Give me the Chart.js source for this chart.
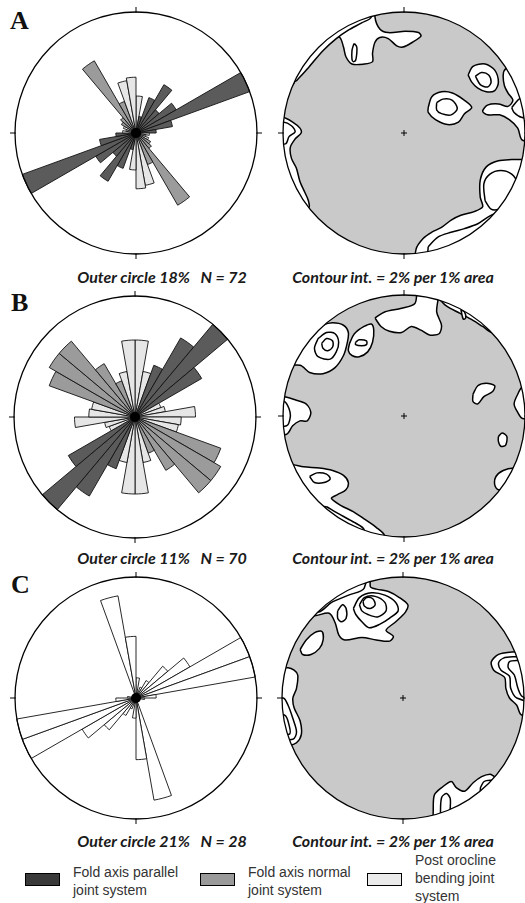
<!DOCTYPE html>
<html>
<head>
<meta charset="utf-8">
<script src="https://cdn.jsdelivr.net/npm/chart.js@4.4.0/dist/chart.umd.min.js"></script>
<style>
  body { margin: 0; width: 525px; height: 903px; overflow: hidden; background: #fff; position: relative; }
  canvas { position: absolute; }
  .panel { position: absolute; font-family: "Liberation Serif", serif; font-weight: bold; font-size: 26px; line-height: 26px; color: #111; }
  .cap { position: absolute; font-family: Lato, sans-serif; font-style: italic; font-weight: 700; font-size: 16px; line-height: 18px; white-space: pre; color: #1a1a1a; transform: translateX(-50%); }
  .key { position: absolute; width: 33px; height: 11px; border: 1px solid #000; }
  .keytext { position: absolute; font-family: "Liberation Sans", Arial, sans-serif; font-size: 14px; line-height: 18px; color: #333; }
</style>
</head>
<body>

<div class="panel" style="left:10px; top:8px;">A</div>
<div class="panel" style="left:11px; top:290px;">B</div>
<div class="panel" style="left:11px; top:572px;">C</div>

<canvas id="roseA" width="254" height="254" style="left:9px; top:6px;"></canvas>
<canvas id="netA" width="254" height="254" style="left:277px; top:6px;"></canvas>
<canvas id="roseB" width="254" height="254" style="left:8px; top:290px;"></canvas>
<canvas id="netB" width="254" height="254" style="left:277px; top:289px;"></canvas>
<canvas id="roseC" width="254" height="254" style="left:9px; top:571px;"></canvas>
<canvas id="netC" width="254" height="254" style="left:276px; top:571px;"></canvas>

<div class="cap" id="capA" style="left:162px; top:268px;"></div>
<div class="cap" id="capNetA" style="left:393px; top:268px;"></div>
<div class="cap" id="capB" style="left:162px; top:549px;"></div>
<div class="cap" id="capNetB" style="left:393px; top:549px;"></div>
<div class="cap" id="capC" style="left:162px; top:832px;"></div>
<div class="cap" id="capNetC" style="left:393px; top:832px;"></div>

<div class="key" style="left:25px; top:873px; background:#3a3a3a;"></div>
<div class="keytext" style="left:73px; top:863px;">Fold axis parallel<br>joint system</div>
<div class="key" style="left:200px; top:873px; background:#9a9a9a;"></div>
<div class="keytext" style="left:248px; top:863px;">Fold axis normal<br>joint system</div>
<div class="key" style="left:367px; top:873px; background:#ebebeb;"></div>
<div class="keytext" style="left:415px; top:851px;">Post orocline<br>bending joint<br>system</div>

<script>
// ---- rose diagrams: % of joints per 10° strike bin, 0-10° ... 170-180°
// (bidirectional, so each bin is also plotted at the opposite azimuth)
const roseA_values = [5.5, 2.5, 5.6, 8.3, 4.5, 6.9, 18, 5.5, 3, 2, 1.5, 2, 2.5, 3, 12.4, 5, 7.9, 8.3];
const roseA_system = ['O', 'P', 'P', 'P', 'P', 'P', 'P', 'P', 'P', 'O', 'O', 'O', 'N', 'N', 'N', 'N', 'O', 'O'];
const roseB_values = [7, 4.2, 5, 8.3, 11, 7, 2.5, 2.8, 5.5, 4.2, 4, 8.3, 9, 9, 5.6, 3.5, 4.2, 7];
const roseB_system = ['O', 'O', 'P', 'P', 'P', 'P', 'O', 'O', 'O', 'O', 'O', 'N', 'N', 'N', 'N', 'N', 'O', 'O'];
const roseC_values = [3.5, 1, 2, 3.5, 7.2, 10.8, 21, 21, 3.5, 1.5, 0, 0, 0, 0, 0, 0, 18, 10.7];
const roseC_system = ['U', 'U', 'U', 'U', 'U', 'U', 'U', 'U', 'U', 'U', 'U', 'U', 'U', 'U', 'U', 'U', 'U', 'U'];

const outerCircle = { A: 18, B: 11, C: 21 };
const sampleSize = { A: 72, B: 70, C: 28 };
const contourInterval = 2;

// ---- pole density contours, stereonet coords (unit circle), level 1 = 2%, 2 = 4% ...
const contoursA = [
  { level: 1, pts: [[-0.24,1.2],[-0.24,0.96],[-0.20,0.86],[-0.13,0.83],[0.01,0.84],[0.12,0.83],[0.14,0.80],[0.07,0.75],[-0.01,0.71],[-0.06,0.72],[-0.13,0.78],[-0.20,0.79],[-0.24,0.75],[-0.26,0.66],[-0.26,0.59],[-0.33,0.57],[-0.43,0.57],[-0.48,0.63],[-0.50,0.71],[-0.53,0.79],[-0.59,0.80],[-0.66,0.74],[-0.74,0.63],[-0.82,0.53],[-0.89,0.45],[-0.93,0.39],[-1.2,0.39],[-1.2,1.2]] },
  { level: 2, pts: [[-0.89,0.43],[-0.79,0.54],[-0.67,0.68],[-0.56,0.78],[-0.46,0.85],[-0.35,0.91],[-0.27,0.96],[-0.27,1.2],[-1.2,1.2],[-1.2,0.43]] },
  { level: 2, pts: [[-0.41,0.74],[-0.39,0.71],[-0.39,0.66],[-0.40,0.60],[-0.42,0.59],[-0.43,0.61],[-0.43,0.68],[-0.42,0.72]] },
  { level: 1, pts: [[-1.2,0.14],[-1.0,0.13],[-0.92,0.09],[-0.86,0.04],[-0.85,0.0],[-0.90,-0.05],[-0.94,-0.12],[-0.93,-0.21],[-0.89,-0.29],[-0.86,-0.40],[-0.82,-0.49],[-0.79,-0.56],[-0.79,-0.62],[-1.2,-0.62]] },
  { level: 2, pts: [[-1.2,0.09],[-1.0,0.09],[-0.93,0.06],[-0.90,0.01],[-0.95,-0.03],[-0.98,-0.09],[-1.2,-0.09]] },
  { level: 1, pts: [[0.20,0.21],[0.23,0.30],[0.31,0.34],[0.40,0.33],[0.50,0.27],[0.56,0.21],[0.50,0.16],[0.45,0.09],[0.36,0.07],[0.26,0.11],[0.20,0.17]] },
  { level: 2, pts: [[0.27,0.25],[0.32,0.28],[0.40,0.27],[0.44,0.20],[0.39,0.15],[0.31,0.16],[0.27,0.19]] },
  { level: 1, pts: [[0.53,0.48],[0.57,0.55],[0.67,0.57],[0.75,0.52],[0.78,0.42],[0.75,0.35],[0.68,0.34],[0.61,0.37],[0.56,0.42]] },
  { level: 2, pts: [[0.59,0.47],[0.64,0.50],[0.70,0.48],[0.72,0.42],[0.69,0.38],[0.63,0.40]] },
  { level: 1, pts: [[1.2,0.75],[0.84,0.53],[0.82,0.48],[0.83,0.39],[0.86,0.33],[0.90,0.27],[0.86,0.22],[0.78,0.24],[0.69,0.23],[0.65,0.18],[0.69,0.15],[0.79,0.15],[0.87,0.11],[0.94,0.04],[0.98,-0.06],[1.2,-0.06]] },
  { level: 2, pts: [[0.89,0.21],[0.94,0.27],[0.98,0.30],[1.2,0.30],[1.2,0.10],[0.97,0.13],[0.91,0.17]] },
  { level: 1, pts: [[0.97,-0.22],[0.89,-0.22],[0.78,-0.23],[0.68,-0.28],[0.63,-0.39],[0.63,-0.53],[0.65,-0.61],[0.58,-0.65],[0.47,-0.68],[0.39,-0.72],[0.31,-0.78],[0.23,-0.82],[0.16,-0.87],[0.10,-0.96],[0.10,-1.2],[1.2,-1.2],[1.2,-0.22]] },
  { level: 2, pts: [[0.67,-0.56],[0.66,-0.42],[0.71,-0.34],[0.80,-0.31],[0.89,-0.34],[0.94,-0.42],[0.93,-0.49],[0.85,-0.56],[0.78,-0.63],[0.72,-0.63]] },
  { level: 2, pts: [[0.20,-0.94],[0.28,-0.86],[0.39,-0.82],[0.50,-0.79],[0.61,-0.75],[0.75,-0.67],[1.2,-0.67],[1.2,-1.2],[0.20,-1.2]] }
];

const contoursB = [
  { level: 1, pts: [[-0.24,0.81],[-0.16,0.86],[-0.02,0.89],[0.09,0.93],[0.12,1.05],[0.28,1.05],[0.27,0.86],[0.31,0.75],[0.29,0.68],[0.21,0.67],[0.14,0.71],[0.06,0.74],[-0.02,0.69],[-0.12,0.70],[-0.19,0.74]] },
  { level: 1, pts: [[0.28,0.98],[0.35,0.91],[0.46,0.85],[0.57,0.79],[0.65,0.74],[0.73,0.69],[1.2,0.69],[1.2,1.2],[0.28,1.2]] },
  { level: 2, pts: [[0.47,0.88],[0.50,0.86],[0.51,0.81],[0.49,0.80]] },
  { level: 1, pts: [[-0.74,0.9],[-0.74,0.69],[-0.67,0.75],[-0.59,0.77],[-0.50,0.75],[-0.46,0.69],[-0.47,0.60],[-0.50,0.50],[-0.57,0.40],[-0.67,0.35],[-0.78,0.36],[-0.86,0.42],[-1.2,0.42],[-1.2,0.9]] },
  { level: 2, pts: [[-0.71,0.64],[-0.64,0.69],[-0.57,0.68],[-0.54,0.61],[-0.56,0.53],[-0.61,0.47],[-0.71,0.49],[-0.74,0.56]] },
  { level: 3, pts: [[-0.68,0.60],[-0.64,0.64],[-0.59,0.62],[-0.59,0.57],[-0.63,0.54],[-0.67,0.56]] },
  { level: 1, pts: [[-0.45,0.60],[-0.41,0.68],[-0.33,0.74],[-0.27,0.76],[-0.25,0.71],[-0.26,0.61],[-0.30,0.53],[-0.37,0.49],[-0.43,0.50],[-0.46,0.54]] },
  { level: 2, pts: [[-0.40,0.61],[-0.37,0.63],[-0.31,0.62],[-0.31,0.59],[-0.35,0.58],[-0.40,0.59]] },
  { level: 1, pts: [[-1.2,0.16],[-0.99,0.16],[-0.89,0.13],[-0.81,0.10],[-0.77,0.03],[-0.80,-0.04],[-0.86,-0.04],[-0.92,-0.08],[-0.97,-0.15],[-1.2,-0.15]] },
  { level: 2, pts: [[-1.2,0.12],[-0.99,0.12],[-0.95,0.06],[-0.94,-0.01],[-0.97,-0.08],[-1.2,-0.08]] },
  { level: 1, pts: [[-1.2,-0.40],[-0.93,-0.40],[-0.83,-0.42],[-0.70,-0.43],[-0.59,-0.45],[-0.50,-0.49],[-0.46,-0.55],[-0.48,-0.61],[-0.55,-0.65],[-0.60,-0.68],[-0.52,-0.74],[-0.42,-0.79],[-0.33,-0.85],[-0.23,-0.92],[-0.16,-0.99],[-0.16,-1.2],[-1.2,-1.2]] },
  { level: 2, pts: [[-0.78,-0.50],[-0.72,-0.47],[-0.64,-0.48],[-0.61,-0.52],[-0.66,-0.55],[-0.74,-0.55]] },
  { level: 2, pts: [[-0.64,-0.75],[-0.52,-0.82],[-0.41,-0.88],[-0.33,-0.94],[-0.33,-1.2],[-1.2,-1.2],[-1.2,-0.75]] },
  { level: 1, pts: [[0.57,0.18],[0.61,0.25],[0.68,0.27],[0.75,0.25],[0.73,0.20],[0.66,0.16],[0.61,0.10],[0.57,0.12]] },
  { level: 1, pts: [[0.78,-0.17],[0.81,-0.14],[0.85,-0.17],[0.84,-0.24],[0.80,-0.25],[0.78,-0.21]] },
  { level: 1, pts: [[1.2,0.24],[0.98,0.24],[0.94,0.18],[0.91,0.10],[0.94,0.03],[0.98,-0.02],[1.2,-0.02]] },
  { level: 1, pts: [[1.2,-0.43],[0.91,-0.43],[0.82,-0.45],[0.76,-0.50],[0.75,-0.57],[0.78,-0.61],[1.2,-0.61]] }
];

const contoursC = [
  { level: 1, pts: [[-1.2,0.68],[-0.73,0.68],[-0.61,0.70],[-0.56,0.62],[-0.53,0.52],[-0.48,0.48],[-0.34,0.50],[-0.22,0.48],[-0.11,0.47],[-0.08,0.51],[-0.14,0.56],[-0.06,0.63],[0.02,0.71],[0.04,0.77],[-0.03,0.83],[-0.12,0.88],[-0.22,0.90],[-0.27,0.92],[-0.28,1.2],[-1.2,1.2]] },
  { level: 2, pts: [[-1.2,0.71],[-0.70,0.71],[-0.59,0.79],[-0.45,0.85],[-0.32,0.91],[-0.32,1.2],[-1.2,1.2]] },
  { level: 2, pts: [[-0.41,0.74],[-0.36,0.83],[-0.26,0.87],[-0.15,0.85],[-0.06,0.79],[-0.04,0.72],[-0.11,0.66],[-0.19,0.61],[-0.28,0.58],[-0.34,0.63],[-0.39,0.69]] },
  { level: 3, pts: [[-0.36,0.77],[-0.32,0.83],[-0.23,0.84],[-0.15,0.79],[-0.14,0.72],[-0.21,0.67],[-0.29,0.69],[-0.34,0.72]] },
  { level: 4, pts: [[-0.33,0.80],[-0.30,0.83],[-0.25,0.82],[-0.23,0.77],[-0.27,0.74],[-0.32,0.76]] },
  { level: 2, pts: [[-0.54,0.72],[-0.50,0.77],[-0.47,0.74],[-0.47,0.66],[-0.51,0.63],[-0.54,0.66]] },
  { level: 1, pts: [[-0.85,0.40],[-0.80,0.48],[-0.73,0.54],[-0.67,0.55],[-0.66,0.48],[-0.69,0.41],[-0.76,0.36],[-0.83,0.36]] },
  { level: 1, pts: [[-1.2,0.25],[-0.95,0.25],[-0.90,0.23],[-0.87,0.19],[-0.88,0.08],[-0.91,0.0],[-0.90,-0.08],[-0.85,-0.19],[-0.84,-0.30],[-0.88,-0.37],[-0.94,-0.39],[-1.2,-0.39]] },
  { level: 2, pts: [[-1.2,0.0],[-0.99,0.0],[-0.95,-0.06],[-0.91,-0.17],[-0.88,-0.28],[-0.91,-0.34],[-1.2,-0.34]] },
  { level: 3, pts: [[-1.2,-0.14],[-0.98,-0.14],[-0.94,-0.23],[-0.94,-0.30],[-1.2,-0.30]] },
  { level: 1, pts: [[1.2,0.39],[0.90,0.38],[0.79,0.36],[0.73,0.30],[0.75,0.23],[0.84,0.17],[0.85,0.08],[0.88,0.0],[0.94,-0.06],[0.98,-0.14],[1.2,-0.14]] },
  { level: 2, pts: [[1.2,0.34],[0.91,0.34],[0.83,0.33],[0.79,0.29],[0.81,0.23],[0.88,0.18],[0.89,0.08],[0.94,0.0],[1.2,-0.04]] },
  { level: 3, pts: [[1.2,0.31],[0.95,0.31],[0.88,0.30],[0.87,0.25],[0.92,0.19],[0.95,0.08],[0.99,0.01],[1.2,0.01]] },
  { level: 1, pts: [[0.25,-1.2],[0.25,-0.91],[0.26,-0.80],[0.32,-0.74],[0.40,-0.69],[0.44,-0.74],[0.51,-0.77],[0.58,-0.70],[0.65,-0.65],[0.72,-0.63],[0.76,-0.65],[1.2,-0.65],[1.2,-1.2]] },
  { level: 2, pts: [[0.31,-1.2],[0.31,-0.93],[0.32,-0.82],[0.36,-0.79],[0.39,-0.83],[0.39,-0.92],[0.39,-1.2]] },
  { level: 2, pts: [[0.64,-0.74],[0.67,-0.69],[0.72,-0.68],[1.2,-0.68],[1.2,-1.2],[0.64,-1.2]] }
];

// joint system -> fill
const SYSTEM_COLORS = { P: '#5b5b5b', N: '#9b9b9b', O: '#e6e6e6', U: '#ffffff' };
const NET_FILL = '#c9c9c9';

// frame shared by both plot types: outer circle + N/E/S/W ticks
function drawFrame(ctx, cx, cy, r) {
    ctx.save();
    ctx.strokeStyle = '#000';
    ctx.lineWidth = 1.3;
    ctx.beginPath();
    ctx.arc(cx, cy, r, 0, Math.PI * 2);
    ctx.stroke();
    ctx.lineWidth = 1;
    ctx.beginPath();
    [[0, -1], [1, 0], [0, 1], [-1, 0]].forEach(([dx, dy]) => {
        ctx.moveTo(cx + dx * (r - 1), cy + dy * (r - 1));
        ctx.lineTo(cx + dx * (r + 5), cy + dy * (r + 5));
    });
    ctx.stroke();
    ctx.restore();
}

const roseFrame = {
    id: 'roseFrame',
    afterDatasetsDraw(chart) {
        const s = chart.scales.r;
        const ctx = chart.ctx;
        drawFrame(ctx, s.xCenter, s.yCenter, s.drawingArea);
        ctx.save();
        ctx.fillStyle = '#000';
        ctx.beginPath();
        ctx.arc(s.xCenter, s.yCenter, 5, 0, Math.PI * 2);
        ctx.fill();
        ctx.restore();
    }
};

const netFrame = {
    id: 'netFrame',
    beforeDatasetsDraw(chart) {
        const { ctx, scales: { x, y } } = chart;
        const cx = x.getPixelForValue(0), cy = y.getPixelForValue(0);
        const r = x.getPixelForValue(1) - cx;
        ctx.save();
        ctx.beginPath();
        ctx.arc(cx, cy, r, 0, Math.PI * 2);
        ctx.fillStyle = NET_FILL;
        ctx.fill();
        ctx.clip();   // contours touching the primitive circle get cut by it
    },
    afterDatasetsDraw(chart) {
        const { ctx, scales: { x, y } } = chart;
        ctx.restore();
        const cx = x.getPixelForValue(0), cy = y.getPixelForValue(0);
        const r = x.getPixelForValue(1) - cx;
        drawFrame(ctx, cx, cy, r);
        ctx.save();
        ctx.strokeStyle = '#000';
        ctx.lineWidth = 1;
        ctx.beginPath();
        ctx.moveTo(cx - 3, cy); ctx.lineTo(cx + 3, cy);
        ctx.moveTo(cx, cy - 3); ctx.lineTo(cx, cy + 3);
        ctx.stroke();
        ctx.restore();
    }
};

const BIN_LABELS = Array.from({ length: 36 }, (_, i) => (i * 10) + '°');

function makeRose(id, values, systems, outerMax) {
    const all = values.concat(values);      // bidirectional rose
    const sys = systems.concat(systems);
    return new Chart(document.getElementById(id), {
        type: 'polarArea',
        data: {
            labels: BIN_LABELS,
            datasets: [{
                data: all,
                backgroundColor: sys.map(s => SYSTEM_COLORS[s]),
                borderColor: '#111',
                borderWidth: 0.9
            }]
        },
        options: {
            responsive: false,
            animation: false,
            layout: { padding: 6 },
            plugins: { legend: { display: false }, tooltip: { enabled: false } },
            scales: { r: { display: false, min: 0, max: outerMax } }
        },
        plugins: [roseFrame]
    });
}

function makeNet(id, contours) {
    return new Chart(document.getElementById(id), {
        type: 'scatter',
        data: {
            datasets: contours.map(c => ({
                data: c.pts.concat([c.pts[0]]).map(([x, y]) => ({ x, y })),
                showLine: true,
                fill: 'shape',
                backgroundColor: '#ffffff',
                borderColor: '#000',
                borderWidth: 1.5,
                pointRadius: 0,
                pointHoverRadius: 0,
                tension: 0.3,
                order: 10 - c.level        // higher contours on top
            }))
        },
        options: {
            responsive: false,
            animation: false,
            layout: { padding: 6 },
            plugins: { legend: { display: false }, tooltip: { enabled: false } },
            scales: {
                x: { display: false, min: -1, max: 1 },
                y: { display: false, min: -1, max: 1 }
            }
        },
        plugins: [netFrame]
    });
}

makeRose('roseA', roseA_values, roseA_system, outerCircle.A);
makeRose('roseB', roseB_values, roseB_system, outerCircle.B);
makeRose('roseC', roseC_values, roseC_system, outerCircle.C);
makeNet('netA', contoursA);
makeNet('netB', contoursB);
makeNet('netC', contoursC);

['A', 'B', 'C'].forEach(k => {
    document.getElementById('cap' + k).textContent = `Outer circle ${outerCircle[k]}%   N = ${sampleSize[k]}`;
    document.getElementById('capNet' + k).textContent = `Contour int. = ${contourInterval}% per 1% area`;
});
</script>
</body>
</html>
